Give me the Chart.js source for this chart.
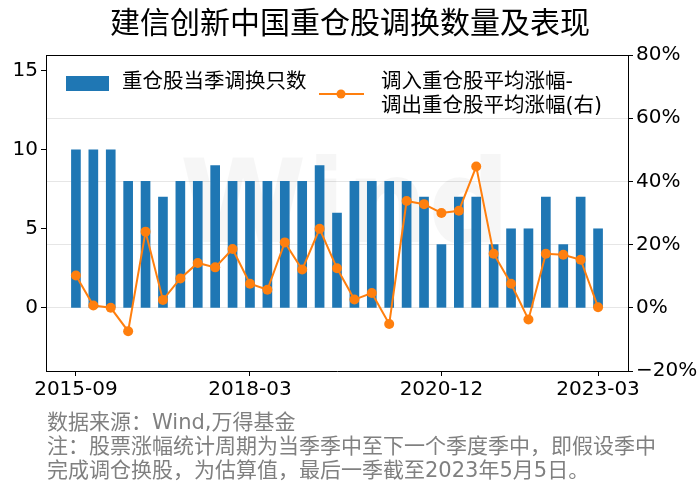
<!DOCTYPE html>
<html>
<head>
<meta charset="utf-8">
<script src="https://cdn.jsdelivr.net/npm/chart.js@4.4.0/dist/chart.umd.min.js"></script>
<style>
  html, body { margin: 0; padding: 0; background: #fff; }
  #wrap { width: 700px; height: 492px; position: relative; }
</style>
</head>
<body>
<div id="wrap"><canvas id="c"></canvas></div>
<script>
// quarterly categories
const quarters = [
  '2015-09', '2015-12', '2016-03', '2016-06', '2016-09', '2016-12',
  '2017-03', '2017-06', '2017-09', '2017-12', '2018-03', '2018-06',
  '2018-09', '2018-12', '2019-03', '2019-06', '2019-09', '2019-12',
  '2020-03', '2020-06', '2020-09', '2020-12', '2021-03', '2021-06',
  '2021-09', '2021-12', '2022-03', '2022-06', '2022-09', '2022-12',
  '2023-03'
];
// 重仓股当季调换只数
const swapCounts = [10, 10, 10, 8, 8, 7, 8, 8, 9, 8, 8, 8, 8, 8, 9, 6,
                    8, 8, 8, 8, 7, 4, 7, 7, 4, 5, 5, 7, 4, 7, 5];
// 调入-调出 平均涨幅 (%)
const spreadPct = [10.2, 0.7, 0.0, -7.4, 24.1, 2.5, 9.3, 14.2, 12.8, 18.6,
                   7.6, 5.7, 20.7, 12.1, 25.0, 12.5, 2.6, 4.7, -5.1, 33.8,
                   32.8, 30.0, 30.7, 44.7, 17.1, 7.6, -3.7, 17.1, 16.8, 15.2, 0.2];
const xTickIdx = [0, 10, 21, 30];
const leftTicks = [0, 5, 10, 15];
const rightTicks = [-20, 0, 20, 40, 60, 80];

const BLUE = '#1f77b4';
const ORANGE = '#ff7f0e';
const FONT = '"DejaVu Sans", "Noto Sans CJK SC", sans-serif';
const CJK = '"Noto Sans CJK SC", sans-serif';

const decor = {
  id: 'decor',
  beforeDatasetsDraw(chart) {
    const ctx = chart.ctx;
    ctx.save();
    ctx.font = 'bold 115px "DejaVu Sans", sans-serif';
    ctx.fillStyle = 'rgba(0,0,0,0.035)';
    ctx.textAlign = 'center';
    ctx.textBaseline = 'middle';
    ctx.fillText('Wind', 345, 212);
    ctx.restore();
  },
  afterDraw(chart) {
    const ctx = chart.ctx;
    const a = chart.chartArea;
    ctx.save();
    // top spine
    ctx.strokeStyle = '#000';
    ctx.lineWidth = 1;
    ctx.beginPath();
    ctx.moveTo(a.left, a.top + 0.5);
    ctx.lineTo(a.right, a.top + 0.5);
    ctx.stroke();

    // title
    ctx.fillStyle = '#000';
    ctx.font = '30px ' + CJK;
    ctx.textAlign = 'center';
    ctx.textBaseline = 'middle';
    ctx.fillText('建信创新中国重仓股调换数量及表现', 350, 22);

    // legend
    ctx.textAlign = 'left';
    ctx.font = '20.5px ' + FONT;
    ctx.fillStyle = BLUE;
    ctx.fillRect(66, 76, 43, 15);
    ctx.fillStyle = '#000';
    ctx.fillText('重仓股当季调换只数', 122, 83);
    ctx.strokeStyle = ORANGE;
    ctx.lineWidth = 2;
    ctx.beginPath();
    ctx.moveTo(319, 94);
    ctx.lineTo(364, 94);
    ctx.stroke();
    ctx.fillStyle = ORANGE;
    ctx.beginPath();
    ctx.arc(341, 94, 4.5, 0, Math.PI * 2);
    ctx.fill();
    ctx.fillStyle = '#000';
    ctx.fillText('调入重仓股平均涨幅-', 381, 83);
    ctx.fillText('调出重仓股平均涨幅(右)', 381, 107);

    // notes
    ctx.fillStyle = '#808080';
    ctx.font = '21px ' + FONT;
    ctx.fillText('数据来源：Wind,万得基金', 47, 424);
    ctx.fillText('注：股票涨幅统计周期为当季季中至下一个季度季中，即假设季中', 47, 448);
    ctx.fillText('完成调仓换股，为估算值，最后一季截至2023年5月5日。', 47, 472);
    ctx.restore();
  }
};

new Chart(document.getElementById('c'), {
  data: {
    datasets: [
      {
        type: 'line',
        label: '调入重仓股平均涨幅-调出重仓股平均涨幅(右)',
        data: spreadPct.map((v, i) => ({ x: i, y: v })),
        yAxisID: 'y1',
        borderColor: ORANGE,
        backgroundColor: ORANGE,
        borderWidth: 2,
        pointRadius: 5,
        pointBorderWidth: 0,
        tension: 0,
        order: 1
      },
      {
        type: 'bar',
        label: '重仓股当季调换只数',
        data: swapCounts.map((v, i) => ({ x: i, y: v })),
        yAxisID: 'y',
        backgroundColor: BLUE,
        barThickness: 9,
        order: 2
      }
    ]
  },
  options: {
    responsive: true,
    maintainAspectRatio: false,
    animation: false,
    layout: { padding: { top: 55, left: 0, right: 0, bottom: 0 } },
    plugins: {
      legend: { display: false },
      title: { display: false },
      tooltip: { enabled: false }
    },
    scales: {
      x: {
        type: 'linear',
        offset: false,
        min: -1.72,
        max: 31.72,
        afterBuildTicks: s => { s.ticks = xTickIdx.map(v => ({ value: v })); },
        afterFit: s => { s.height = 121; },
        ticks: {
          callback: v => quarters[v],
          autoSkip: false,
          maxRotation: 0,
          color: '#000',
          padding: 2,
          font: { family: FONT, size: 20 }
        },
        grid: { drawOnChartArea: false, offset: false, tickLength: 5, color: '#000' },
        border: { color: '#000', width: 1 }
      },
      y: {
        position: 'left',
        min: -4,
        max: 16,
        afterBuildTicks: s => { s.ticks = leftTicks.map(v => ({ value: v })); },
        afterFit: s => { s.width = 46; },
        ticks: { color: '#000', padding: 3, font: { family: FONT, size: 20 } },
        grid: { drawOnChartArea: false, tickLength: 5, color: '#000' },
        border: { color: '#000', width: 1 }
      },
      y1: {
        position: 'right',
        min: -20,
        max: 80,
        afterBuildTicks: s => { s.ticks = rightTicks.map(v => ({ value: v })); },
        afterFit: s => { s.width = 72; },
        ticks: {
          callback: v => (v < 0 ? '\u2212' + Math.abs(v) : v) + '%',
          color: '#000',
          padding: 3,
          font: { family: FONT, size: 20 }
        },
        grid: { color: '#e6e6e6', tickColor: '#000', tickLength: 5, lineWidth: 1 },
        border: { color: '#000', width: 1 }
      }
    }
  },
  plugins: [decor]
});
</script>
</body>
</html>
